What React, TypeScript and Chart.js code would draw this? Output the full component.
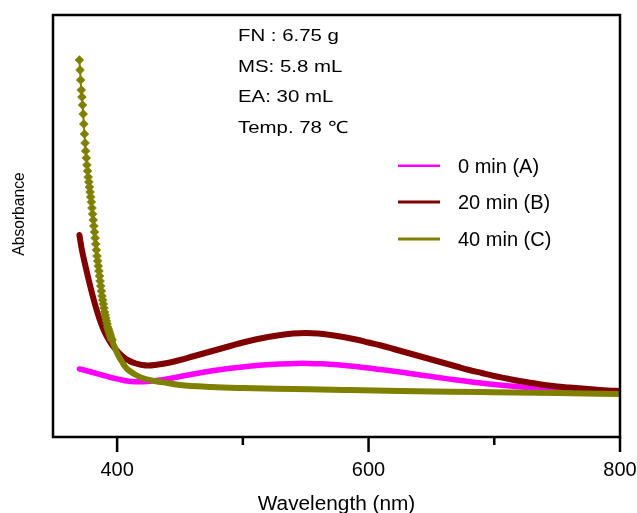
import React, { useEffect, useRef } from "react";
import { Chart, registerables } from "chart.js";

Chart.register(...registerables);

const FONT = "'Liberation Sans', Arial, Helvetica, sans-serif";

// ---- Data (wavelength in nm, absorbance in arbitrary units) ----
const wlA = [370, 375, 381, 388, 395, 402, 408, 415, 421, 428, 434, 442, 450, 463, 477, 490, 503, 516, 530, 543, 552, 562, 572, 583, 596, 609, 625, 636, 649, 662, 675, 689, 702, 715, 737, 760, 780, 800];
const absA = [0.68, 0.665, 0.645, 0.62, 0.595, 0.575, 0.56, 0.553, 0.553, 0.56, 0.57, 0.585, 0.605, 0.635, 0.665, 0.687, 0.705, 0.72, 0.73, 0.736, 0.736, 0.732, 0.724, 0.712, 0.695, 0.675, 0.65, 0.63, 0.607, 0.584, 0.562, 0.54, 0.522, 0.507, 0.485, 0.468, 0.458, 0.45];

const wlB = [370, 372, 375, 378, 380, 383, 386, 390, 395, 400, 405, 410, 415, 420, 425, 430, 440, 450, 460, 470, 480, 490, 500, 510, 520, 530, 540, 550, 560, 570, 580, 590, 600, 610, 620, 630, 640, 650, 660, 670, 680, 690, 700, 710, 720, 730, 740, 750, 760, 770, 780, 790, 800];
const absB = [2.02, 1.87, 1.7, 1.54, 1.44, 1.3, 1.18, 1.05, 0.94, 0.86, 0.8, 0.76, 0.735, 0.72, 0.715, 0.72, 0.74, 0.77, 0.805, 0.84, 0.875, 0.91, 0.945, 0.975, 1.0, 1.02, 1.035, 1.04, 1.035, 1.02, 1.0, 0.975, 0.945, 0.915, 0.88, 0.845, 0.81, 0.775, 0.74, 0.705, 0.67, 0.64, 0.61, 0.585, 0.56, 0.54, 0.52, 0.505, 0.495, 0.485, 0.475, 0.465, 0.46];

const wlC = [370, 370.5, 371, 371.5, 372, 372.5, 373, 373.5, 374, 374.5, 375, 375.5, 376, 376.5, 377, 377.5, 378, 378.5, 379, 379.5, 380, 380.5, 381, 381.5, 382, 382.5, 383, 383.5, 384, 384.5, 385, 385.5, 386, 386.5, 387, 387.5, 388, 388.5, 389, 389.5, 390, 390.5, 391, 391.5, 392, 392.5, 393, 393.5, 394, 394.5, 395, 395.5, 396, 397, 398, 399, 400, 402, 404, 406, 408, 410, 415, 420, 430, 440, 450, 475, 500, 540, 580, 625, 690, 750, 800];
const absC = [3.77, 3.67, 3.57, 3.47, 3.4, 3.32, 3.23, 3.13, 3.03, 2.94, 2.86, 2.79, 2.72, 2.66, 2.6, 2.55, 2.5, 2.45, 2.4, 2.35, 2.29, 2.23, 2.17, 2.11, 2.05, 1.99, 1.93, 1.87, 1.81, 1.76, 1.71, 1.66, 1.61, 1.56, 1.51, 1.46, 1.41, 1.37, 1.33, 1.29, 1.25, 1.22, 1.19, 1.16, 1.13, 1.1, 1.08, 1.06, 1.04, 1.02, 1.0, 0.98, 0.97, 0.93, 0.9, 0.87, 0.84, 0.79, 0.75, 0.71, 0.68, 0.66, 0.62, 0.59, 0.56, 0.54, 0.52, 0.5, 0.49, 0.48, 0.47, 0.46, 0.45, 0.44, 0.43];

const seriesLabels = ["0 min (A)", "20 min (B)", "40 min (C)"];
const seriesColors = ["#ff00ff", "#800000", "#808000"];

const majorTicks = [400, 600, 800];
const minorTicks = [500, 700];

const annotationLines = ["FN : 6.75 g", "MS: 5.8 mL", "EA: 30 mL", "Temp. 78 \u2103"];

const xTitle = "Wavelength (nm)";
const yTitle = "Absorbance";

const toPoints = (xs: number[], ys: number[]) => xs.map((x, i) => ({ x, y: ys[i] }));

const decorPlugin = {
  id: "decor",
  afterDraw(chart: any) {
    const { ctx, chartArea } = chart;
    const { left, right, top, bottom } = chartArea;
    const xs = chart.scales.x;
    ctx.save();
    // frame
    ctx.strokeStyle = "#000";
    ctx.lineWidth = 2.5;
    ctx.strokeRect(left, top, right - left, bottom - top);
    // tick marks
    ctx.lineCap = "butt";
    majorTicks.forEach((v) => {
      const px = xs.getPixelForValue(v);
      ctx.beginPath();
      ctx.moveTo(px, bottom);
      ctx.lineTo(px, bottom + 15);
      ctx.stroke();
    });
    minorTicks.forEach((v) => {
      const px = xs.getPixelForValue(v);
      ctx.beginPath();
      ctx.moveTo(px, bottom);
      ctx.lineTo(px, bottom + 8);
      ctx.stroke();
    });
    ctx.fillStyle = "#000";
    // x title
    ctx.font = `20px ${FONT}`;
    ctx.textAlign = "center";
    ctx.textBaseline = "alphabetic";
    ctx.save();
    ctx.translate((left + right) / 2, 510);
    ctx.scale(1.04, 1);
    ctx.fillText(xTitle, 0, 0);
    ctx.restore();
    // y title
    ctx.save();
    ctx.translate(24, 214);
    ctx.rotate(-Math.PI / 2);
    ctx.font = `17px ${FONT}`;
    ctx.scale(0.92, 1);
    ctx.textAlign = "center";
    ctx.fillText(yTitle, 0, 0);
    ctx.restore();
    // annotation
    ctx.font = `17px ${FONT}`;
    ctx.textAlign = "left";
    const baselines = [40.7, 71.7, 101.7, 132.7];
    annotationLines.forEach((t, i) => {
      ctx.save();
      ctx.translate(238, baselines[i]);
      ctx.scale(1.2, 1);
      ctx.fillText(t, 0, 0);
      ctx.restore();
    });
    // legend
    const legY = [165.7, 202, 239];
    const legW = [2.5, 3, 3];
    ctx.font = `20px ${FONT}`;
    seriesLabels.forEach((lab, i) => {
      ctx.strokeStyle = seriesColors[i];
      ctx.lineWidth = legW[i];
      ctx.beginPath();
      ctx.moveTo(398, legY[i]);
      ctx.lineTo(440, legY[i]);
      ctx.stroke();
      ctx.fillStyle = "#000";
      ctx.fillText(lab, 458, legY[i] + 7);
    });
    ctx.restore();
  },
};

export default function App() {
  const canvasRef = useRef<HTMLCanvasElement | null>(null);

  useEffect(() => {
    if (!canvasRef.current) return;
    Chart.defaults.font.family = FONT;
    const chart = new Chart(canvasRef.current, {
      type: "line",
      data: {
        datasets: [
          {
            label: seriesLabels[2],
            data: toPoints(wlC, absC),
            borderColor: seriesColors[2],
            backgroundColor: seriesColors[2],
            borderWidth: 2,
            segment: {
              borderWidth: (c: any) => (c.p1.parsed.x > 396 ? 6 : 2),
            },
            pointStyle: "rectRot",
            pointRadius: (c: any) => (c.raw && c.raw.x <= 396 ? 4.5 : 0),
            pointBorderWidth: 0.5,
            pointBorderColor: seriesColors[2],
            pointBackgroundColor: seriesColors[2],
            cubicInterpolationMode: "monotone",
            order: 0,
          },
          {
            label: seriesLabels[1],
            data: toPoints(wlB, absB),
            borderColor: seriesColors[1],
            borderWidth: 6,
            pointRadius: 0,
            borderCapStyle: "round",
            tension: 0.4,
            order: 1,
          },
          {
            label: seriesLabels[0],
            data: toPoints(wlA, absA),
            borderColor: seriesColors[0],
            borderWidth: 5.5,
            pointRadius: 0,
            borderCapStyle: "round",
            tension: 0.4,
            order: 2,
          },
        ],
      },
      options: {
        animation: false,
        responsive: true,
        maintainAspectRatio: false,
        layout: { padding: { left: 53, right: 17, top: 15, bottom: 0 } },
        plugins: { legend: { display: false }, tooltip: { enabled: false } },
        scales: {
          x: {
            type: "linear",
            min: 349,
            max: 800,
            grid: { display: false, drawTicks: false },
            border: { display: false },
            afterBuildTicks: (s: any) => {
              s.ticks = [...majorTicks, ...minorTicks].sort((a, b) => a - b).map((v) => ({ value: v }));
            },
            afterFit: (s: any) => {
              s.height = 76;
              s.paddingLeft = 0;
              s.paddingRight = 0;
            },
            ticks: {
              color: "#000",
              font: { size: 20, family: FONT },
              padding: 21,
              maxRotation: 0,
              autoSkip: false,
              callback: (v: any) => (majorTicks.includes(Number(v)) ? String(v) : ""),
            },
          },
          y: {
            type: "linear",
            min: 0,
            max: 4.22,
            display: false,
          },
        },
      },
      plugins: [decorPlugin],
    } as any);
    return () => chart.destroy();
  }, []);

  return (
    <div style={{ position: "fixed", left: 0, top: 0, width: 637, height: 513, background: "#fff" }}>
      <canvas ref={canvasRef} />
    </div>
  );
}
